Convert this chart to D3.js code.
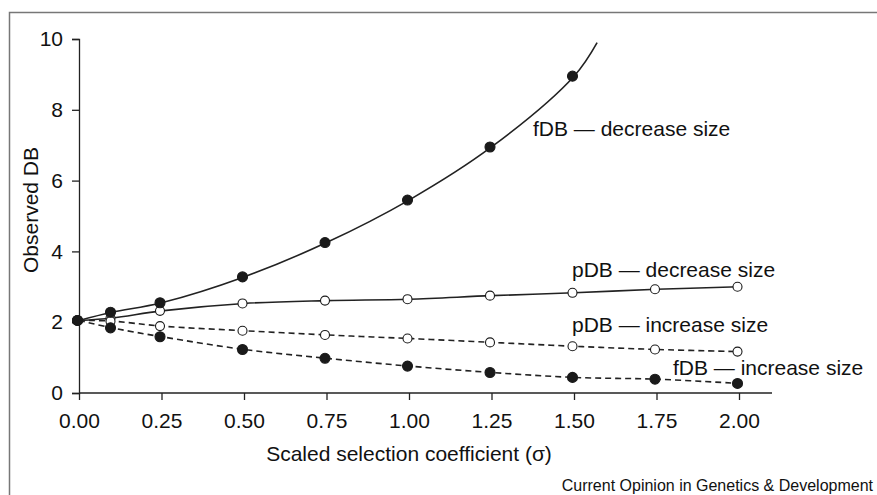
<!DOCTYPE html>
<html>
<head>
<meta charset="utf-8">
<script src="https://cdn.jsdelivr.net/npm/d3@7"></script>
<style>
  body { margin: 0; background: #fff; }
  svg { font-family: "Liberation Sans", Arial, sans-serif; }
</style>
</head>
<body>
<svg id="chart" width="877" height="495"></svg>
<script>
// Sigma values where the simulations were sampled
const sigmaValues = [0, 0.1, 0.25, 0.5, 0.75, 1.0, 1.25, 1.5, 1.75, 2.0];

// Observed DB per series (null = no point)
const fdbDecrease = [2.05, 2.28, 2.55, 3.28, 4.25, 5.45, 6.95, 8.95, null, null];
const fdbDecreaseEnd = [1.57, 9.9]; // curve continues past last marker
const pdbDecrease = [2.05, 2.12, 2.32, 2.53, 2.61, 2.65, 2.75, 2.83, 2.93, 3.0];
const pdbIncrease = [2.05, 2.03, 1.89, 1.76, 1.64, 1.54, 1.43, 1.32, 1.23, 1.17];
const fdbIncrease = [2.05, 1.84, 1.59, 1.23, 0.98, 0.76, 0.58, 0.44, 0.39, 0.27];

const xTicks = [0, 0.25, 0.5, 0.75, 1.0, 1.25, 1.5, 1.75, 2.0];
const yTicks = [0, 2, 4, 6, 8, 10];

const seriesLabels = ['fDB — decrease size', 'pDB — decrease size', 'pDB — increase size', 'fDB — increase size'];

const svg = d3.select('#chart');

// Outer frame (only top/left show inside the window)
svg.append('rect')
    .attr('x', 9.5).attr('y', 12.5)
    .attr('width', 900).attr('height', 520)
    .attr('fill', 'none')
    .attr('stroke', '#777')
    .attr('stroke-width', 1.5);

const x = d3.scaleLinear().domain([0, 2]).range([79, 739]);
const y = d3.scaleLinear().domain([0, 10]).range([393, 39]);

// Axes
const xAxis = svg.append('g')
    .attr('transform', `translate(0,${y(0)})`)
    .call(d3.axisBottom(x).tickValues(xTicks).tickFormat(d3.format('.2f')).tickSizeOuter(0).tickSize(7).tickPadding(13));
xAxis.select('.domain').attr('d', `M${x(0)},0H${x(2.1)}`);

const yAxis = svg.append('g')
    .attr('transform', `translate(${x(0)},0)`)
    .call(d3.axisLeft(y).tickValues(yTicks).tickSizeOuter(0).tickSize(7).tickPadding(9));

svg.selectAll('.tick text').attr('font-size', 21).attr('fill', '#111').style('font-family', '"Liberation Sans", Arial, sans-serif');
svg.selectAll('.domain, .tick line').attr('stroke', '#222').attr('stroke-width', 1.3);

// Axis titles
svg.append('text')
    .attr('x', x(1.0)).attr('y', 461)
    .attr('text-anchor', 'middle')
    .attr('font-size', 21)
    .attr('fill', '#111')
    .text('Scaled selection coefficient (σ)');

svg.append('text')
    .attr('transform', 'translate(38,210) rotate(-90)')
    .attr('text-anchor', 'middle')
    .attr('font-size', 21)
    .attr('fill', '#111')
    .text('Observed DB');

svg.append('text')
    .attr('x', 873).attr('y', 491)
    .attr('text-anchor', 'end')
    .attr('font-size', 16)
    .attr('fill', '#111')
    .text('Current Opinion in Genetics & Development');

// Series
const toPoints = vals => sigmaValues.map((s, i) => [s, vals[i]]).filter(p => p[1] != null);

const series = [
    { pts: toPoints(fdbDecrease), line: toPoints(fdbDecrease).concat([fdbDecreaseEnd]), dash: null, filled: true },
    { pts: toPoints(pdbDecrease), line: toPoints(pdbDecrease), dash: null, filled: false },
    { pts: toPoints(pdbIncrease), line: toPoints(pdbIncrease), dash: '6,4', filled: false },
    { pts: toPoints(fdbIncrease), line: toPoints(fdbIncrease), dash: '6,4', filled: true }
];

const line = d3.line()
    .x(d => x(d[0]))
    .y(d => y(d[1]))
    .curve(d3.curveCatmullRom);

series.forEach(s => {
    svg.append('path')
        .datum(s.line)
        .attr('d', line)
        .attr('fill', 'none')
        .attr('stroke', '#222')
        .attr('stroke-width', 1.6)
        .attr('stroke-dasharray', s.dash);
});

// Markers: open ones first, filled on top
[series[1], series[2], series[3], series[0]].forEach(s => {
    svg.append('g').selectAll('circle')
        .data(s.pts)
        .join('circle')
        .attr('cx', d => x(d[0]) - 1.5)
        .attr('cy', d => y(d[1]))
        .attr('r', s.filled ? 5 : 4.5)
        .attr('fill', s.filled ? '#1a1a1a' : '#fff')
        .attr('stroke', '#1a1a1a')
        .attr('stroke-width', 1.1);
});

// Series labels
const labelPos = [[533, 136], [572, 277], [572, 332], [673, 375]];
svg.append('g').selectAll('text')
    .data(seriesLabels)
    .join('text')
    .attr('x', (d, i) => labelPos[i][0])
    .attr('y', (d, i) => labelPos[i][1])
    .attr('font-size', 21)
    .attr('fill', '#111')
    .text(d => d);
</script>
</body>
</html>
